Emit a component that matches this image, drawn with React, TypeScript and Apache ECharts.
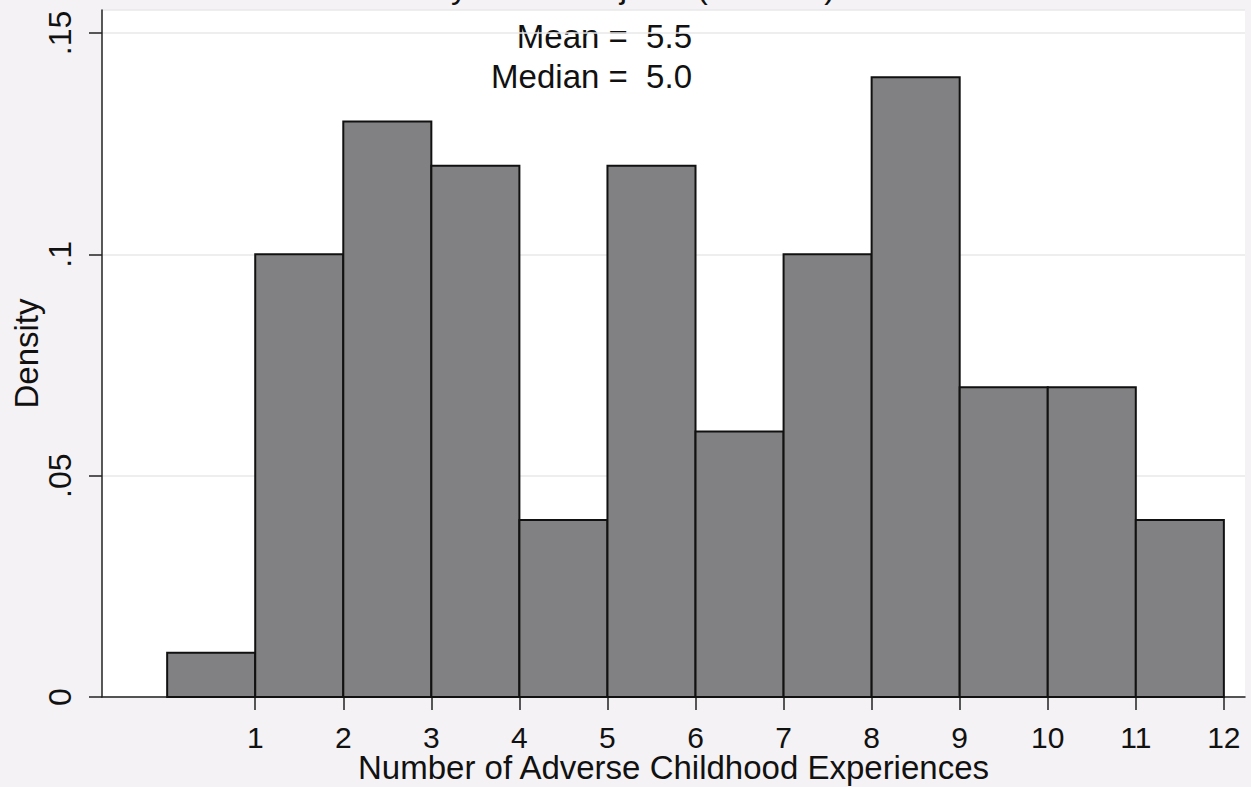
import React, { useEffect, useRef } from "react";
import * as echarts from "echarts";

const binStarts = [0, 1, 2, 3, 4, 5, 6, 7, 8, 9, 10, 11];
const binEnds = [1, 2, 3, 4, 5, 6, 7, 8, 9, 10, 11, 12];
const densities = [0.01, 0.1, 0.13, 0.12, 0.04, 0.12, 0.06, 0.1, 0.14, 0.07, 0.07, 0.04];
const xTickValues = [1, 2, 3, 4, 5, 6, 7, 8, 9, 10, 11, 12];
const yTickLabels: Record<string, string> = { "0": "0", "0.05": ".05", "0.1": ".1", "0.15": ".15" };
const statLines = ["Mean =  5.5", "Median =  5.0"];
const titleText = "Kane County ACEs Projects (N = 100)";
const xAxisTitle = "Number of Adverse Childhood Experiences";
const yAxisTitle = "Density";

export default function App() {
  const ref = useRef<HTMLDivElement>(null);
  useEffect(() => {
    if (!ref.current) return;
    const chart = echarts.init(ref.current, null, { renderer: "svg" });
    const font = "'Liberation Sans', Arial, sans-serif";
    const fs = 33;
    const data = binStarts.map((s, i) => [s, binEnds[i], densities[i]]);
    chart.setOption({
      animation: false,
      backgroundColor: "#f4f2f5",
      textStyle: { fontFamily: font },
      grid: {
        left: 102,
        right: 6,
        top: 10,
        bottom: 90,
        show: true,
        backgroundColor: "#ffffff",
        borderWidth: 0,
        containLabel: false,
        outerBoundsMode: "none",
      },
      xAxis: {
        type: "value",
        min: -0.74,
        max: 12.24,
        name: xAxisTitle,
        nameLocation: "middle",
        nameGap: 56,
        nameMoveOverlap: false,
        nameTextStyle: { fontSize: fs, lineHeight: 29, color: "#111", fontFamily: font },
        axisLine: { show: true, onZero: false, lineStyle: { color: "#222", width: 1.5 } },
        axisTick: { show: true, length: 13, customValues: xTickValues, lineStyle: { color: "#222", width: 1.5 } },
        axisLabel: { customValues: xTickValues, fontSize: 30, lineHeight: 26, color: "#111", margin: 27, fontFamily: font },
        splitLine: { show: false },
      },
      yAxis: {
        type: "value",
        min: 0,
        max: 0.1552,
        interval: 0.05,
        name: yAxisTitle,
        nameLocation: "middle",
        nameGap: 59,
        nameMoveOverlap: false,
        nameRotate: 90,
        nameTextStyle: { fontSize: fs, color: "#111", fontFamily: font },
        axisLine: { show: true, onZero: false, lineStyle: { color: "#222", width: 1.5 } },
        axisTick: { show: true, length: 13, lineStyle: { color: "#222", width: 1.5 } },
        axisLabel: {
          rotate: 90,
          fontSize: 32,
          color: "#111",
          margin: 26,
          fontFamily: font,
          formatter: (v: number) => yTickLabels[String(+v.toFixed(2))] ?? String(v),
        },
        splitLine: { show: true, lineStyle: { color: "#e8e8ea", width: 1.5 } },
      },
      series: [
        {
          type: "custom",
          data,
          encode: { x: [0, 1], y: 2 },
          renderItem: (params: any, api: any) => {
            const x0 = api.value(0);
            const x1 = api.value(1);
            const y = api.value(2);
            const p0 = api.coord([x0, y]);
            const p1 = api.coord([x1, 0]);
            return {
              type: "rect",
              shape: { x: p0[0], y: p0[1], width: p1[0] - p0[0], height: p1[1] - p0[1] },
              style: { fill: "#818082", stroke: "#111111", lineWidth: 2 },
            };
          },
        },
      ],
      graphic: [
        {
          type: "text",
          x: 556,
          y: 3,
          style: { text: titleText, fontSize: fs, fill: "#111", fontFamily: font, align: "center", verticalAlign: "bottom" },
        },
        {
          type: "text",
          x: 692,
          y: 36,
          style: { text: statLines[0], fontSize: fs, fill: "#111", fontFamily: font, align: "right", verticalAlign: "middle" },
        },
        {
          type: "text",
          x: 692,
          y: 76,
          style: { text: statLines[1], fontSize: fs, fill: "#111", fontFamily: font, align: "right", verticalAlign: "middle" },
        },
      ],
    });
    return () => chart.dispose();
  }, []);
  return (
    <div
      ref={ref}
      style={{ position: "fixed", left: 0, top: 0, width: 1251, height: 787 }}
    />
  );
}
